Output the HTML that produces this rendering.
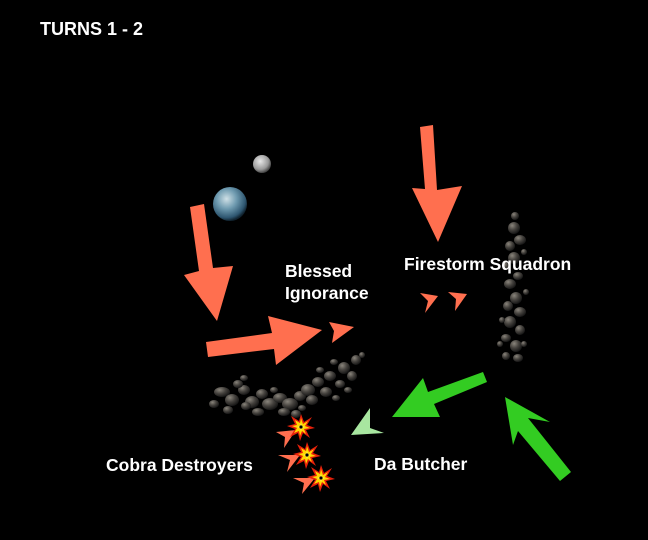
<!DOCTYPE html>
<html><head><meta charset="utf-8"><style>
html,body{margin:0;padding:0;background:#000;}
svg{display:block}
text{font-family:"Liberation Sans",sans-serif;font-weight:bold;fill:#fff;}
</style></head><body>
<svg width="648" height="540" viewBox="0 0 648 540" xmlns="http://www.w3.org/2000/svg">
<defs>
<radialGradient id="earth" cx="40%" cy="35%" r="65%"><stop offset="0" stop-color="#cfe0e6"/><stop offset="0.45" stop-color="#6f9bb0"/><stop offset="0.85" stop-color="#2e5670"/><stop offset="1" stop-color="#10222e"/></radialGradient>
<radialGradient id="moon" cx="40%" cy="35%" r="65%"><stop offset="0" stop-color="#e8e8e8"/><stop offset="0.7" stop-color="#999"/><stop offset="1" stop-color="#444"/></radialGradient>
<radialGradient id="rock" cx="35%" cy="30%" r="75%"><stop offset="0" stop-color="#8a857c"/><stop offset="0.5" stop-color="#44413d"/><stop offset="1" stop-color="#111"/></radialGradient>
<g id="boom"><polygon points="0,-13 3,-5 11,-10 6,-2 14,1 5,3 9,11 2,6 -1,14 -3,6 -11,10 -6,2 -14,-1 -6,-3 -10,-11 -2,-6" fill="#e8200a"/><polygon points="0,-9 2,-3 7,-6 4,-1 9,1 3,2 5,7 1,4 -1,9 -2,4 -7,6 -4,1 -9,-1 -4,-2 -6,-7 -1,-4" fill="#ffd800"/><polygon points="0,-4 1,-1 4,0 1,1 0,4 -1,1 -4,0 -1,-1" fill="#fff36a"/><circle r="1.6" fill="#000"/></g>
</defs>
<rect width="648" height="540" fill="#000"/>
<text x="40" y="35" font-size="18">TURNS 1 - 2</text>

<circle cx="262" cy="164" r="9" fill="url(#moon)"/>
<circle cx="230" cy="204" r="17" fill="url(#earth)"/>

<g fill="url(#rock)">
<ellipse cx="222" cy="392" rx="8" ry="5"/><ellipse cx="232" cy="400" rx="7" ry="6"/><ellipse cx="244" cy="390" rx="6" ry="5"/><ellipse cx="238" cy="384" rx="5" ry="4"/>
<ellipse cx="252" cy="402" rx="7" ry="6"/><ellipse cx="262" cy="394" rx="6" ry="5"/><ellipse cx="270" cy="404" rx="8" ry="6"/><ellipse cx="258" cy="412" rx="6" ry="4"/>
<ellipse cx="280" cy="398" rx="7" ry="5"/><ellipse cx="290" cy="404" rx="8" ry="6"/><ellipse cx="300" cy="396" rx="6" ry="5"/><ellipse cx="284" cy="412" rx="6" ry="4"/>
<ellipse cx="308" cy="390" rx="7" ry="6"/><ellipse cx="318" cy="382" rx="6" ry="5"/><ellipse cx="312" cy="400" rx="6" ry="5"/><ellipse cx="326" cy="392" rx="6" ry="5"/>
<ellipse cx="330" cy="376" rx="6" ry="5"/><ellipse cx="340" cy="384" rx="5" ry="4"/><ellipse cx="344" cy="368" rx="6" ry="6"/><ellipse cx="352" cy="376" rx="5" ry="5"/>
<ellipse cx="356" cy="360" rx="5" ry="5"/><ellipse cx="320" cy="370" rx="4" ry="3"/><ellipse cx="244" cy="378" rx="4" ry="3"/><ellipse cx="214" cy="404" rx="5" ry="4"/>
<ellipse cx="296" cy="414" rx="5" ry="4"/><ellipse cx="334" cy="362" rx="4" ry="3"/><ellipse cx="362" cy="355" rx="3" ry="3"/>
<ellipse cx="228" cy="410" rx="5" ry="4"/><ellipse cx="246" cy="406" rx="5" ry="4"/><ellipse cx="274" cy="390" rx="4" ry="3"/><ellipse cx="302" cy="408" rx="4" ry="3"/><ellipse cx="348" cy="390" rx="4" ry="3"/><ellipse cx="336" cy="398" rx="4" ry="3"/>
</g>
<g fill="url(#rock)">
<ellipse cx="515" cy="216" rx="4" ry="4"/><ellipse cx="514" cy="228" rx="6" ry="6"/><ellipse cx="520" cy="240" rx="6" ry="5"/><ellipse cx="510" cy="246" rx="5" ry="5"/>
<ellipse cx="514" cy="258" rx="6" ry="6"/><ellipse cx="506" cy="266" rx="4" ry="4"/><ellipse cx="518" cy="276" rx="5" ry="4"/><ellipse cx="510" cy="284" rx="6" ry="5"/>
<ellipse cx="516" cy="298" rx="6" ry="6"/><ellipse cx="508" cy="306" rx="5" ry="5"/><ellipse cx="520" cy="312" rx="6" ry="5"/><ellipse cx="510" cy="322" rx="6" ry="6"/>
<ellipse cx="520" cy="330" rx="5" ry="5"/><ellipse cx="506" cy="338" rx="5" ry="4"/><ellipse cx="516" cy="346" rx="6" ry="6"/><ellipse cx="506" cy="356" rx="4" ry="4"/><ellipse cx="518" cy="358" rx="5" ry="4"/><ellipse cx="526" cy="292" rx="3" ry="3"/><ellipse cx="500" cy="344" rx="3" ry="3"/>
<ellipse cx="524" cy="252" rx="3" ry="3"/><ellipse cx="502" cy="320" rx="3" ry="3"/><ellipse cx="524" cy="344" rx="3" ry="3"/>
</g>

<g fill="#ff6f4f">
<polygon points="420,127 433,125 437,190 462,186 438,242 412,188 425,189"/>
<polygon points="190,207 204,204 213,268 233,266 217,321 184,275 199,271"/>
<polygon points="206,342 272,333 268,316 322,330 276,365 274,349 208,357"/>
<polygon points="329,322 354,327 332,343 334,331"/>
<polygon points="420,293 438,296 425,313 428,301"/>
<polygon points="448,292 467,294 455,311 456,299"/>
<polygon points="276,432 296,430 284,448 285,437"/>
<polygon points="278,455 300,455 287,472 290,460"/>
<polygon points="293,478 315,478 302,494 304,483"/>
</g>
<g fill="#33cc22">
<polygon points="483,372 487,382 434,404 440,417 392,417 423,378 428,392"/>
<polygon points="560,481 571,472 528,418 550,422 505,397 513,445 518,431"/>
</g>
<polygon points="370,408 351,435 384,433 370,428" fill="#a8e6a0"/>

<use href="#boom" x="301" y="427"/>
<use href="#boom" x="307" y="455"/>
<use href="#boom" x="321" y="478"/>

<text x="285" y="277" font-size="17.5">Blessed</text>
<text x="285" y="299" font-size="17.5">Ignorance</text>
<text x="404" y="270" font-size="17.5">Firestorm Squadron</text>
<text x="106" y="471" font-size="17.5">Cobra Destroyers</text>
<text x="374" y="470" font-size="17.5">Da Butcher</text>
</svg>
</body></html>
